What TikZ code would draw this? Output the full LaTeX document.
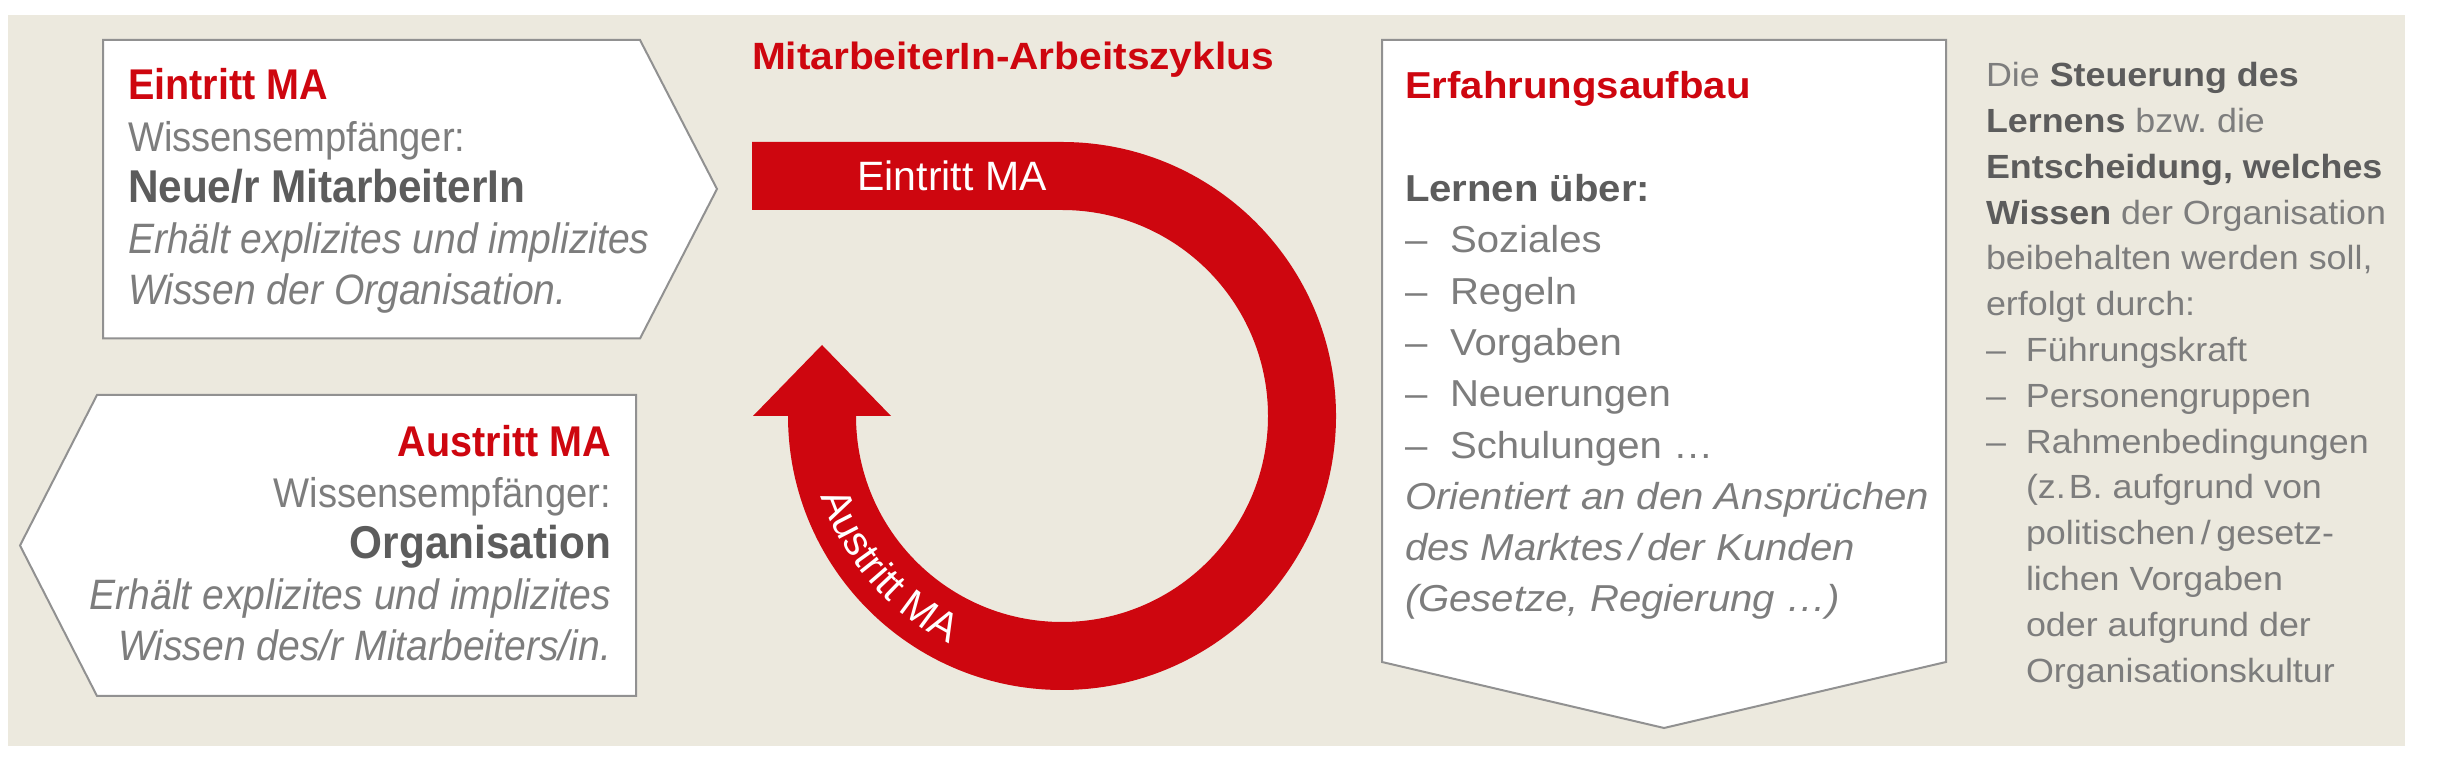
\documentclass[tikz,border=0pt]{standalone}
\usepackage{fontspec}
\setmainfont{Liberation Sans}
\newfontfamily\condfont[FakeStretch=0.92]{Liberation Sans}
\newfontfamily\widefont[FakeStretch=1.07]{Liberation Sans}
\usetikzlibrary{decorations.text}
\definecolor{mared}{RGB}{206,6,15}
\definecolor{beige}{RGB}{236,233,222}
\definecolor{txtgray}{RGB}{125,125,125}
\definecolor{txtdark}{RGB}{92,92,92}
\definecolor{boxline}{RGB}{145,145,145}
\newcommand\fsz[1]{\fontsize{#1}{#1}\selectfont}
\frenchspacing
\begin{document}
\begin{tikzpicture}[x=1pt,y=1pt,
  lt/.style={anchor=base west,inner sep=0pt,outer sep=0pt},
  rt/.style={anchor=base east,inner sep=0pt,outer sep=0pt},
  panel/.style={draw=boxline,line width=2pt,fill=white,line join=miter},
  lbody/.style={txtgray,font=\condfont\fsz{41.5}},
  lital/.style={txtgray,font=\condfont\itshape\fsz{42.5}},
  lhead/.style={mared,font=\condfont\bfseries\fsz{43}},
  lbold/.style={txtdark,font=\condfont\bfseries\fsz{46}},
  rbody/.style={txtgray,font=\widefont\fsz{37.5}},
  rital/.style={txtgray,font=\widefont\itshape\fsz{37.5}},
  rhead/.style={mared,font=\widefont\bfseries\fsz{37.5}},
  rbold/.style={txtdark,font=\widefont\bfseries\fsz{37.5}},
  cbody/.style={txtgray,font=\widefont\fsz{33.5}}]
\useasboundingbox (0,0) rectangle (2440,773);
\fill[beige] (8,27) rectangle (2405,758);

% boxes
\draw[panel] (103,733) -- (640,733) -- (717,584) -- (640,434.5) -- (103,434.5) -- cycle;
\draw[panel] (97,378) -- (636,378) -- (636,77) -- (97,77) -- (20,227.5) -- cycle;
\draw[panel] (1382,733) -- (1946,733) -- (1946,111) -- (1664,45) -- (1382,111) -- cycle;

% red cycle arrow
\coordinate (cc) at (1062,357);
\fill[mared] (752,631) -- (1062,631) arc[start angle=90,end angle=-180,radius=274]
  -- (753,357) -- (822,428) -- (891,357) -- (856,357)
  arc[start angle=180,end angle=450,radius=206] -- (752,563) -- cycle;
\node[white,font=\fsz{41},inner sep=0pt] (eintrittlbl) at (952,597) {Eintritt MA};
\path[decorate,decoration={text along path,text align=center,text color=white,
  text={|\fsz{41}|Austritt MA}}]
  ([shift={(191:254)}]cc) arc[start angle=191,end angle=251,radius=254];

% title
\node[lt,mared,font=\widefont\bfseries\fsz{38}] (title) at (752,703) {MitarbeiterIn-Arbeitszyklus};

% Eintritt box text
\node[lt,lhead] (e1) at (128,673) {Eintritt MA};
\node[lt,lbody] (e2) at (128,621.75) {Wissensempfänger:};
\node[lt,lbold] (e3) at (128,570.5) {Neue/r MitarbeiterIn};
\node[lt,lital] (e4) at (128,519.25) {Erhält explizites und implizites};
\node[lt,lital] (e5) at (128,468) {Wissen der Organisation.};

% Austritt box text
\node[rt,lhead] (a1) at (611,316.5) {Austritt MA};
\node[rt,lbody] (a2) at (611,265.5) {Wissensempfänger:};
\node[rt,lbold] (a3) at (611,214.5) {Organisation};
\node[rt,lital] (a4) at (611,163.5) {Erhält explizites und implizites};
\node[rt,lital] (a5) at (611,112.5) {Wissen des/r Mitarbeiters/in.};

% Erfahrungsaufbau box text
\node[lt,rhead] (r1) at (1405,674) {Erfahrungsaufbau};
\node[lt,rbold] (r2) at (1405,571.4) {Lernen über:};
\node[lt,rbody] (r3) at (1405,520.1) {\makebox[45pt][l]{–}Soziales};
\node[lt,rbody] (r4) at (1405,468.8) {\makebox[45pt][l]{–}Regeln};
\node[lt,rbody] (r5) at (1405,417.5) {\makebox[45pt][l]{–}Vorgaben};
\node[lt,rbody] (r6) at (1405,366.2) {\makebox[45pt][l]{–}Neuerungen};
\node[lt,rbody] (r7) at (1405,314.9) {\makebox[45pt][l]{–}Schulungen …};
\node[lt,rital] (r8) at (1405,263.6) {Orientiert an den Ansprüchen};
\node[lt,rital] (r9) at (1405,212.3) {des Marktes\,/\,der Kunden};
\node[lt,rital] (r10) at (1405,161) {(Gesetze, Regierung …)};

% right column
\node[lt,cbody] (c1) at (1986,686.3) {Die {\color{txtdark}\bfseries Steuerung des}};
\node[lt,cbody] (c2) at (1986,640.5) {{\color{txtdark}\bfseries Lernens} bzw. die};
\node[lt,cbody] (c3) at (1986,594.7) {{\color{txtdark}\bfseries Entscheidung, welches}};
\node[lt,cbody] (c4) at (1986,548.9) {{\color{txtdark}\bfseries Wissen} der Organisation};
\node[lt,cbody] (c5) at (1986,503.1) {beibehalten werden soll,};
\node[lt,cbody] (c6) at (1986,457.3) {erfolgt durch:};
\node[lt,cbody] (c7) at (1986,411.5) {\makebox[40pt][l]{–}Führungskraft};
\node[lt,cbody] (c8) at (1986,365.7) {\makebox[40pt][l]{–}Personengruppen};
\node[lt,cbody] (c9) at (1986,319.9) {\makebox[40pt][l]{–}Rahmenbedingungen};
\node[lt,cbody] (c10) at (2026,274.1) {(z.\kern3pt B. aufgrund von};
\node[lt,cbody] (c11) at (2026,228.3) {politischen\,/\,gesetz-};
\node[lt,cbody] (c12) at (2026,182.5) {lichen Vorgaben};
\node[lt,cbody] (c13) at (2026,136.7) {oder aufgrund der};
\node[lt,cbody] (c14) at (2026,90.9) {Organisationskultur};
\end{tikzpicture}
\end{document}
